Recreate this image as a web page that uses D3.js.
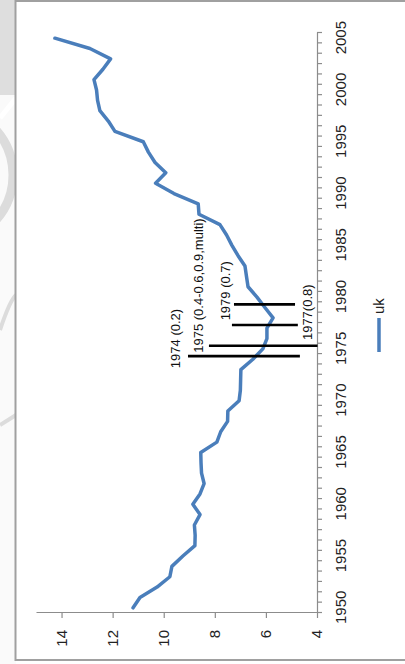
<!DOCTYPE html>
<html>
<head>
<meta charset="utf-8">
<script src="https://cdn.jsdelivr.net/npm/d3@7"></script>
<style>
  body { margin: 0; background: #fff; }
  svg { display: block; font-family: "Liberation Sans", Arial, sans-serif; }
</style>
</head>
<body>
<div id="chart"></div>
<script>
// data
const years = d3.range(1950, 2006);
const ukValues = [
    11.2, 10.93, 10.26, 9.76, 9.68, 9.25, 8.78, 8.77, 8.8, 8.58,
    8.86, 8.58, 8.42, 8.52, 8.54, 8.55, 7.92, 7.77, 7.5, 7.49,
    7.05, 7.0, 6.99, 6.98, 6.51, 6.12, 5.96, 5.96, 5.72, 6.04,
    6.35, 6.7, 6.76, 6.82, 7.09, 7.33, 7.54, 7.8, 8.62, 8.65,
    9.6, 10.32, 9.92, 10.34, 10.6, 10.8, 11.91, 12.17, 12.5, 12.59,
    12.63, 12.73, 12.38, 12.08, 12.89, 14.26
];
const valueTicks = [4, 6, 8, 10, 12, 14];
const yearLabels = [1950, 1955, 1960, 1965, 1970, 1975, 1980, 1985, 1990, 1995, 2000, 2005];

// event markers: position (year), low and high value, label
const eventYears = [1974.3, 1975.3, 1977.3, 1979.3];
const eventLow = [4.67, 3.98, 4.75, 4.86];
const eventHigh = [9.05, 8.23, 7.33, 7.25];
const eventLabels = ["1974 (0.2)", "1975 (0.4-0.6,0.9,multi)", "1977(0.8)", "1979 (0.7)"];
const seriesName = "uk";

const W = 405, H = 664;
const plotLen = 580;   // along the year axis
const plotDepth = 281; // along the value axis

const svg = d3.select("#chart").append("svg")
    .attr("width", W)
    .attr("height", H);

// page background strip on the left (watermark area)
const bg = svg.append("g");
bg.append("rect").attr("x", 0).attr("y", 0).attr("width", 16).attr("height", H).attr("fill", "#fafafa");
bg.append("rect").attr("x", 0).attr("y", 0).attr("width", 16).attr("height", 95).attr("fill", "#dedede");
bg.append("circle").attr("cx", -55).attr("cy", 175).attr("r", 68)
    .attr("fill", "none").attr("stroke", "#dcdcdc").attr("stroke-width", 9);
bg.append("line").attr("x1", 0).attr("y1", 118).attr("x2", 16).attr("y2", 98)
    .attr("stroke", "#fff").attr("stroke-width", 5);
bg.append("path").attr("d", "M0,330 Q10,300 16,295").attr("fill", "none")
    .attr("stroke", "#dcdcdc").attr("stroke-width", 4);
bg.append("path").attr("d", "M0,425 L16,415").attr("fill", "none")
    .attr("stroke", "#dcdcdc").attr("stroke-width", 4);

// chart frame
svg.append("rect")
    .attr("x", 15.5).attr("y", 1)
    .attr("width", 420).attr("height", 659)
    .attr("fill", "#fff")
    .attr("stroke", "#a0a0a0")
    .attr("stroke-width", 2);

// the chart is drawn upright and turned a quarter turn
const g = svg.append("g").attr("transform", "translate(36,613) rotate(-90)");

const x = d3.scaleLinear().domain([1949.5, 2005.5]).range([0, plotLen]);
const y = d3.scaleLinear().domain([4, 15]).range([plotDepth, 0]);

// year axis: tick marks between categories, labels every five years
const xTicks = g.append("g")
    .attr("transform", `translate(0,${plotDepth})`)
    .call(d3.axisBottom(x)
        .tickValues(d3.range(1949.5, 2006, 1))
        .tickSize(5)
        .tickSizeOuter(0)
        .tickFormat(""));
const xLabels = g.append("g")
    .attr("transform", `translate(0,${plotDepth})`)
    .call(d3.axisBottom(x)
        .tickValues(yearLabels)
        .tickSize(0)
        .tickPadding(18)
        .tickFormat(d3.format("d")));
xLabels.select(".domain").remove();

const yAxis = g.append("g")
    .call(d3.axisLeft(y)
        .tickValues(valueTicks)
        .tickSize(5)
        .tickSizeOuter(0)
        .tickPadding(12));

[xTicks, xLabels, yAxis].forEach((a) => {
    a.selectAll(".domain, line").attr("stroke", "#8c8c8c").attr("stroke-width", 1.2);
    a.selectAll("text").attr("fill", "#222").style("font-size", "15px").style("font-family", "Liberation Sans, Arial, sans-serif");
});

// series
const line = d3.line()
    .x((d, i) => x(years[i]))
    .y((d) => y(d));

g.append("path")
    .datum(ukValues)
    .attr("d", line)
    .attr("fill", "none")
    .attr("stroke", "#4a7ebb")
    .attr("stroke-width", 3.5)
    .attr("stroke-linejoin", "round")
    .attr("stroke-linecap", "round");

// event markers
g.selectAll(".event")
    .data(eventYears)
    .enter()
    .append("line")
    .attr("class", "event")
    .attr("x1", (d) => x(d))
    .attr("x2", (d) => x(d))
    .attr("y1", (d, i) => y(eventLow[i]))
    .attr("y2", (d, i) => y(eventHigh[i]))
    .attr("stroke", "#000")
    .attr("stroke-width", 2.6);

// label offsets from the marker (px): dx along years, dy from the end used
const labelDx = [-12, -7, -15, -16];
const labelAtTop = [true, true, false, true];
const labelDy = [-8, -6, 14, -4];

g.selectAll(".eventLabel")
    .data(eventLabels)
    .enter()
    .append("text")
    .attr("class", "eventLabel")
    .attr("x", (d, i) => x(eventYears[i]) + labelDx[i])
    .attr("y", (d, i) => (labelAtTop[i] ? y(eventHigh[i]) : y(eventLow[i])) + labelDy[i])
    .attr("fill", "#111")
    .style("font-size", "13px")
    .text((d) => d);

// legend
const legend = g.append("g").attr("transform", `translate(261,${plotDepth + 62})`);
legend.append("line")
    .attr("x1", 0).attr("x2", 34)
    .attr("y1", 0).attr("y2", 0)
    .attr("stroke", "#4a7ebb")
    .attr("stroke-width", 3.5);
legend.append("text")
    .attr("x", 38)
    .attr("y", 5)
    .attr("fill", "#222")
    .style("font-size", "15px")
    .text(seriesName);
</script>
</body>
</html>
